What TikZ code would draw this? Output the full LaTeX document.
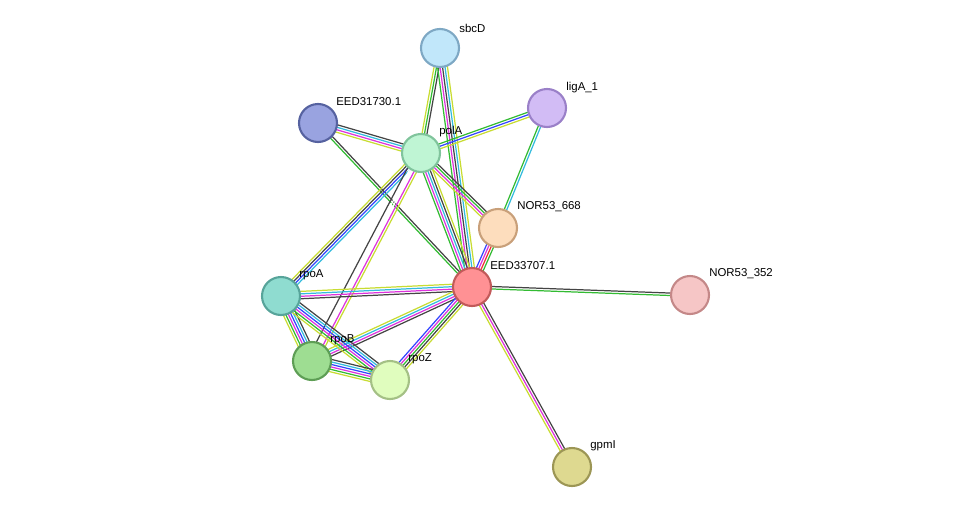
\documentclass[tikz,border=0pt]{standalone}
\usepackage{fontspec}
\setmainfont{Liberation Sans}
\usetikzlibrary{calc}
\definecolor{tm}{HTML}{C8DC32}
\definecolor{ex}{HTML}{DD33DD}
\definecolor{db}{HTML}{33BBDD}
\definecolor{nb}{HTML}{33BB33}
\definecolor{co}{HTML}{444444}
\definecolor{bl}{HTML}{3344FF}
\definecolor{fu}{HTML}{EE3333}
\tikzset{
  prot/.style={draw, circle, line width=1.2pt, minimum size=0.76cm, inner sep=0pt},
  plabel/.style={anchor=west, inner sep=0pt, font=\fontsize{6.5}{8}\selectfont},
}
% #1 number of lines, #2 #3 ends, #4 colours
\newcommand\strlink[4]{%
  \foreach \col [count=\k] in {#4} {
    \pgfmathsetmacro\off{(\k-(#1+1)/2)*1.4}
    \draw[\col, line width=0.7pt] ($(#2)!\off pt!90:(#3)$) -- ($(#3)!\off pt!-90:(#2)$);
  }}
\begin{document}
\begin{tikzpicture}[x=0.02cm, y=-0.02cm]
  \useasboundingbox (0,0) rectangle (976,514);
  \coordinate (sbcD) at (440,48);
  \coordinate (ligA) at (547,108);
  \coordinate (EED31730) at (318,123);
  \coordinate (polA) at (421,153);
  \coordinate (NOR668) at (498,228);
  \coordinate (EED33707) at (472,287);
  \coordinate (NOR352) at (690,295);
  \coordinate (rpoA) at (281,296);
  \coordinate (rpoB) at (312,361);
  \coordinate (rpoZ) at (390,380);
  \coordinate (gpmI) at (572,467);

  % links
  \strlink{3}{sbcD}{polA}{tm,nb,co}
  \strlink{5}{sbcD}{EED33707}{nb,ex,co,db,tm}
  \strlink{3}{ligA}{polA}{nb,bl,tm}
  \strlink{2}{ligA}{NOR668}{nb,db}
  \strlink{4}{EED31730}{polA}{tm,ex,db,co}
  \strlink{2}{EED31730}{EED33707}{nb,co}
  \strlink{4}{polA}{NOR668}{tm,ex,nb,co}
  \strlink{5}{polA}{EED33707}{nb,ex,db,co,tm}
  \strlink{4}{polA}{rpoA}{tm,co,bl,db}
  \strlink{5}{polA}{rpoB}{co,white,white,ex,tm}
  \strlink{4}{NOR668}{EED33707}{bl,ex,fu,nb}
  \strlink{2}{EED33707}{NOR352}{nb,co}
  \strlink{3}{EED33707}{gpmI}{tm,ex,co}
  \strlink{4}{EED33707}{rpoA}{tm,db,ex,co}
  \strlink{4}{EED33707}{rpoB}{tm,db,ex,co}
  \strlink{5}{EED33707}{rpoZ}{bl,ex,nb,co,tm}
  \strlink{6}{rpoA}{rpoB}{tm,nb,ex,bl,db,co}
  \strlink{6}{rpoA}{rpoZ}{tm,nb,ex,bl,db,co}
  \strlink{6}{rpoB}{rpoZ}{tm,nb,ex,bl,db,co}

  % proteins
  \node[prot, fill={rgb,255:red,193;green,231;blue,250}, draw={rgb,255:red,126;green,168;blue,196}] (n-sbcD) at (sbcD) {};
  \node[prot, fill={rgb,255:red,210;green,188;blue,245}, draw={rgb,255:red,154;green,128;blue,200}] (n-ligA) at (ligA) {};
  \node[prot, fill={rgb,255:red,153;green,163;blue,224}, draw={rgb,255:red,86;green,98;blue,160}] (n-EED31730) at (EED31730) {};
  \node[prot, fill={rgb,255:red,191;green,245;blue,212}, draw={rgb,255:red,128;green,196;blue,156}] (n-polA) at (polA) {};
  \node[prot, fill={rgb,255:red,253;green,221;blue,189}, draw={rgb,255:red,201;green,160;blue,122}] (n-NOR668) at (NOR668) {};
  \node[prot, fill={rgb,255:red,255;green,145;blue,148}, draw={rgb,255:red,194;green,90;blue,90}] (n-EED33707) at (EED33707) {};
  \node[prot, fill={rgb,255:red,246;green,198;blue,198}, draw={rgb,255:red,196;green,136;blue,136}] (n-NOR352) at (NOR352) {};
  \node[prot, fill={rgb,255:red,143;green,220;blue,208}, draw={rgb,255:red,87;green,164;blue,154}] (n-rpoA) at (rpoA) {};
  \node[prot, fill={rgb,255:red,158;green,221;blue,146}, draw={rgb,255:red,94;green,158;blue,85}] (n-rpoB) at (rpoB) {};
  \node[prot, fill={rgb,255:red,224;green,253;blue,190}, draw={rgb,255:red,164;green,192;blue,133}] (n-rpoZ) at (rpoZ) {};
  \node[prot, fill={rgb,255:red,222;green,217;blue,144}, draw={rgb,255:red,156;green,150;blue,85}] (n-gpmI) at (gpmI) {};

  % labels
  \node[plabel] at ($(sbcD)+(19,-20)$) {sbcD};
  \node[plabel] at ($(ligA)+(19,-20)$) {ligA\_1};
  \node[plabel] at ($(EED31730)+(18,-21)$) {EED31730.1};
  \node[plabel] at ($(polA)+(18,-21)$) {polA};
  \node[plabel] at ($(NOR668)+(19,-21)$) {NOR53\_668};
  \node[plabel] at ($(EED33707)+(18,-21)$) {EED33707.1};
  \node[plabel] at ($(NOR352)+(19,-21)$) {NOR53\_352};
  \node[plabel] at ($(rpoA)+(18,-21)$) {rpoA};
  \node[plabel] at ($(rpoB)+(18,-21)$) {rpoB};
  \node[plabel] at ($(rpoZ)+(18,-21)$) {rpoZ};
  \node[plabel] at ($(gpmI)+(18,-21)$) {gpmI};
\end{tikzpicture}
\end{document}
